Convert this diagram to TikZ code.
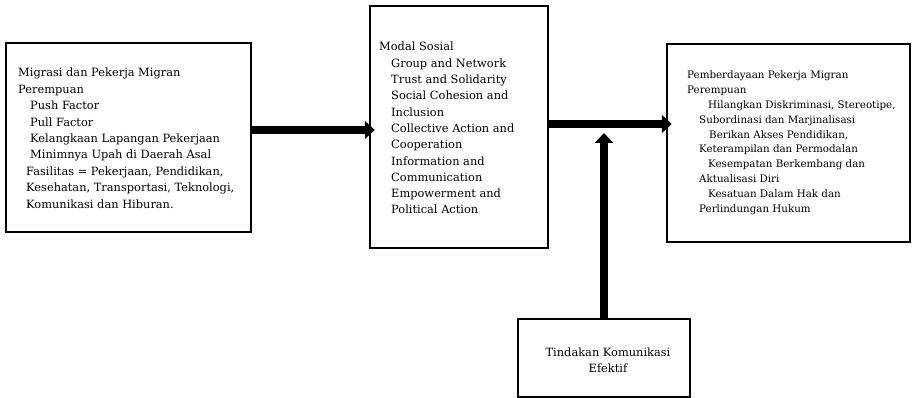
\documentclass[tikz,border=0pt]{standalone}
\usepackage{fontspec}
\setmainfont{DejaVu Serif}
\usetikzlibrary{arrows.meta}
\begin{document}
\begin{tikzpicture}[x=1pt,y=-1pt,
  box/.style={draw,line width=2.5pt,inner sep=0pt},
  ln/.style={anchor=base west,inner sep=0pt,font=\fontsize{11.4}{12}\selectfont},
  lnr/.style={anchor=base west,inner sep=0pt,font=\fontsize{10.3}{12}\selectfont},
  fat/.style={line width=8pt,-{Triangle[length=10pt,width=18pt]}}]
\useasboundingbox (0,0) rectangle (913,398);
% boxes
\node[box,minimum width=245pt,minimum height=189pt] (left) at (128.5,137.5) {};
\node[box,minimum width=178pt,minimum height=242pt] (mid) at (459,127) {};
\node[box,minimum width=243pt,minimum height=198pt] (right) at (788.5,143) {};
\node[box,minimum width=172pt,minimum height=78pt] (bot) at (604,358) {};
% left text
\node[ln] (l1) at (18,77) {Migrasi dan Pekerja Migran};
\node[ln] (l2) at (18,93.4) {Perempuan};
\node[ln] (l3) at (30,109.8) {Push Factor};
\node[ln] (l4) at (30,126.2) {Pull Factor};
\node[ln] (l5) at (30,142.6) {Kelangkaan Lapangan Pekerjaan};
\node[ln] (l6) at (30,159) {Minimnya Upah di Daerah Asal};
\node[ln] (l7) at (26,175.4) {Fasilitas = Pekerjaan, Pendidikan,};
\node[ln] (l8) at (26,191.8) {Kesehatan, Transportasi, Teknologi,};
\node[ln] (l9) at (26,208.2) {Komunikasi dan Hiburan.};
% middle text
\node[ln] (m1) at (379,51) {Modal Sosial};
\node[ln] (m2) at (391,67.3) {Group and Network};
\node[ln] (m3) at (391,83.6) {Trust and Solidarity};
\node[ln] (m4) at (391,99.9) {Social Cohesion and};
\node[ln] (m5) at (391,116.2) {Inclusion};
\node[ln] (m6) at (391,132.5) {Collective Action and};
\node[ln] (m7) at (391,148.8) {Cooperation};
\node[ln] (m8) at (391,165.1) {Information and};
\node[ln] (m9) at (391,181.4) {Communication};
\node[ln] (m10) at (391,197.7) {Empowerment and};
\node[ln] (m11) at (391,214) {Political Action};
% right text
\node[lnr] (r1) at (687,79) {Pemberdayaan Pekerja Migran};
\node[lnr] (r2) at (687,93.8) {Perempuan};
\node[lnr] (r3) at (708,108.6) {Hilangkan Diskriminasi, Stereotipe,};
\node[lnr] (r4) at (699,123.4) {Subordinasi dan Marjinalisasi};
\node[lnr] (r5) at (709,138.2) {Berikan Akses Pendidikan,};
\node[lnr] (r6) at (699,153) {Keterampilan dan Permodalan};
\node[lnr] (r7) at (708,167.8) {Kesempatan Berkembang dan};
\node[lnr] (r8) at (699,182.6) {Aktualisasi Diri};
\node[lnr] (r9) at (708,197.4) {Kesatuan Dalam Hak dan};
\node[lnr] (r10) at (699,212.2) {Perlindungan Hukum};
% bottom text
\node[anchor=base,inner sep=0pt,font=\fontsize{11.4}{12}\selectfont] (b1) at (608,356) {Tindakan Komunikasi};
\node[anchor=base,inner sep=0pt,font=\fontsize{11.4}{12}\selectfont] (b2) at (608,372) {Efektif};
% arrows
\draw[fat,shorten >=-6pt] (left.east |- 0,130) -- (mid.west |- 0,130);
\draw[fat,shorten >=-6pt] (mid.east |- 0,124) -- (right.west |- 0,124);
\draw[fat] (bot.north) -- (604,133);
\end{tikzpicture}
\end{document}
